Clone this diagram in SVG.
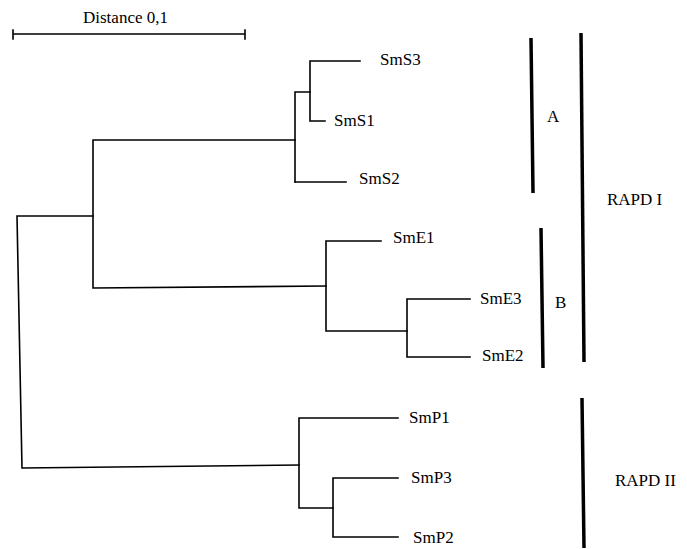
<svg xmlns="http://www.w3.org/2000/svg" width="687" height="549" viewBox="0 0 687 549">
<style>
.br{fill:none;stroke:#000;stroke-width:1.6;stroke-linecap:square}
.bar{fill:none;stroke:#000;stroke-width:3.5}
text{font-family:"Liberation Serif","Times New Roman",serif;font-size:17px;fill:#000}
</style>
<rect width="687" height="549" fill="#fff"/>
<g id="scale">
<path class="br" d="M13,34 H245 M13,30 V39 M245,30 V39"/>
<text x="83" y="23">Distance 0,1</text>
</g>
<g id="connectors">
<path class="br" d="M93,216 L17,216 L22,468 L299,465"/>
<path class="br" d="M295,140 H93 V288 L326,286"/>
<path class="br" d="M310,92 H295 V182"/>
<path class="br" d="M360,61 H310 V121 H325"/>
<path class="br" d="M295,182 H346"/>
<path class="br" d="M381,241 H326 V331 H407"/>
<path class="br" d="M470,299 H407 V357 H470"/>
<path class="br" d="M398,418 H299 V508 H333"/>
<path class="br" d="M398,478 H333 V537 H398"/>
</g>
<g id="SmS3"><text x="380" y="65">SmS3</text></g>
<g id="SmS1"><text x="334" y="126">SmS1</text></g>
<g id="SmS2"><text x="359" y="184">SmS2</text></g>
<g id="SmE1"><text x="393" y="243">SmE1</text></g>
<g id="SmE3"><text x="480" y="304">SmE3</text></g>
<g id="SmE2"><text x="482" y="361">SmE2</text></g>
<g id="SmP1"><text x="409" y="423">SmP1</text></g>
<g id="SmP3"><text x="411" y="483">SmP3</text></g>
<g id="SmP2"><text x="413" y="543">SmP2</text></g>
<g id="groupA">
<path class="bar" d="M531,38 L533,193"/>
<text x="547" y="122">A</text>
</g>
<g id="groupB">
<path class="bar" d="M541,228 L543,368"/>
<text x="555" y="308">B</text>
</g>
<g id="rapd1">
<path class="bar" d="M581,33 L584,362"/>
<text x="607" y="205">RAPD I</text>
</g>
<g id="rapd2">
<path class="bar" d="M582,398 L584,548"/>
<text x="615" y="486">RAPD II</text>
</g>
</svg>
